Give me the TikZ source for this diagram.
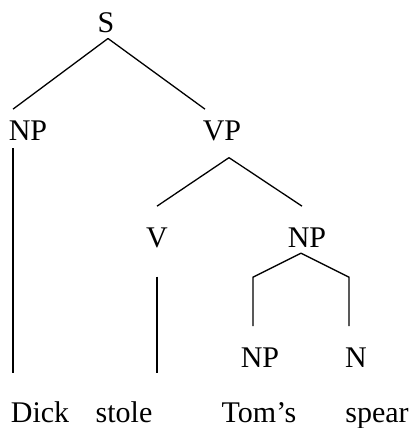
\documentclass[tikz,border=0pt]{standalone}
\usepackage{fontspec}
\setmainfont{Liberation Serif}
\usepackage{xcolor}
\usetikzlibrary{positioning}
\usetikzlibrary{calc}
\tikzset{cat/.style={inner sep=0pt, anchor=base, font=\fontsize{30}{36}\selectfont},
	branch/.style={draw=black, line width=1.3pt}}

\begin{document}
\begin{tikzpicture}[x=1pt, y=-1pt]
	\useasboundingbox (0,0) rectangle (412,428);

	% categories
	\node[cat] (s) at (106,33) {S};
	\node[cat] (np1) at (28,140) {NP};
	\node[cat] (vp) at (222,140) {VP};
	\node[cat] (v) at (157,247) {V};
	\node[cat] (np2) at (307,247) {NP};
	\node[cat] (np3) at (260,367) {NP};
	\node[cat] (n) at (356,367) {N};

	% words
	\node[cat] (dick) at (40,422) {Dick};
	\node[cat] (stole) at (124,422) {stole};
	\node[cat] (toms) at (259,422) {Tom’s};
	\node[cat] (spear) at (377,422) {spear};

	\coordinate (s-fork) at ($(s.south)+(2,5)$);
	\coordinate (vp-fork) at ($(vp.south)+(7,17)$);
	\coordinate (np2-fork) at ($(np2.south)+(-6,6)$);

	% S
	\draw[branch] (s-fork) -- ($(np1.north)+(-15,-11)$);
	\draw[branch] (s-fork) -- ($(vp.north)+(-17,-11)$);
	\draw[branch] ($(np1.south)+(-15,8)$) -- ($(dick.north)+(-27,-28)$);

	% VP
	\draw[branch] (vp-fork) -- ($(v.north)+(0,-21)$);
	\draw[branch] (vp-fork) -- ($(np2.north)+(-5,-21)$);
	\draw[branch] ($(v.south)+(0,29)$) -- ($(stole.north)+(33,-28)$);

	% NP
	\draw[branch] (np2-fork) -- ($(np3.north)+(-7,-70)$) -- ($(np3.north)+(-7,-21)$);
	\draw[branch] (np2-fork) -- ($(n.north)+(-7,-70)$) -- ($(n.north)+(-7,-21)$);
\end{tikzpicture}
\end{document}
